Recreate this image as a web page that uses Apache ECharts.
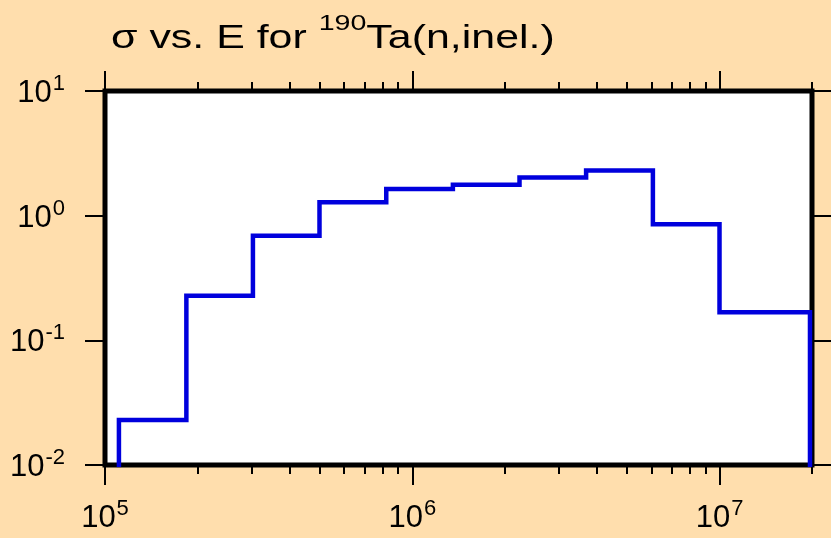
<!DOCTYPE html>
<html>
<head>
<meta charset="utf-8">
<script src="https://cdn.jsdelivr.net/npm/echarts@6/dist/echarts.min.js"></script>
<style>
  html, body { margin: 0; padding: 0; background: #FFDEAD; }
  #chart { width: 831px; height: 538px; }
</style>
</head>
<body>
<div id="chart"></div>
<script>
// group boundaries (eV) and cross sections (b)
const energyEdges = [1.11e5, 1.84e5, 3.03e5, 4.99e5, 8.23e5, 1.356e6, 2.234e6, 3.68e6, 6.07e6, 1.0e7, 1.97e7];
const sigmaValues = [0.023, 0.228, 0.69, 1.28, 1.64, 1.77, 2.02, 2.30, 0.853, 0.168];

const xMajorTicks = [1e5, 1e6, 1e7];
const xMinorTicks = [2e5, 3e5, 4e5, 5e5, 6e5, 7e5, 8e5, 9e5,
                     2e6, 3e6, 4e6, 5e6, 6e6, 7e6, 8e6, 9e6, 2e7];
const xRange = [1e5, 2e7];
const yRange = [1e-2, 1e1];

// build the step outline
let stepPts = [[energyEdges[0], yRange[0]]];
sigmaValues.forEach((v, i) => {
    stepPts.push([energyEdges[i], v]);
    stepPts.push([energyEdges[i + 1], v]);
});
stepPts.push([energyEdges[energyEdges.length - 1], yRange[0]]);

const font = "'Liberation Sans', Arial, sans-serif";
const pow10 = function (v) {
    return '{b|10}{s|' + Math.round(Math.log10(v)) + '}';
};
const labelRich = {
    b: { fontSize: 31, fontFamily: font, color: '#000', lineHeight: 36, verticalAlign: 'bottom' },
    s: { fontSize: 22, fontFamily: font, color: '#000', lineHeight: 36, verticalAlign: 'top', padding: [0, 0, 0, 1] }
};

function xAx(pos, ticks, len, withLabels) {
    return {
        type: 'log', logBase: 10, position: pos,
        min: xRange[0], max: xRange[1],
        axisLine: { show: false },
        splitLine: { show: false },
        axisTick: { show: true, inside: false, length: len, customValues: ticks,
                    lineStyle: { color: '#000', width: 2 } },
        axisLabel: withLabels
            ? { show: true, customValues: ticks, margin: 33, formatter: pow10, rich: labelRich }
            : { show: false }
    };
}
function yAx(pos, withLabels) {
    return {
        type: 'log', logBase: 10, position: pos,
        min: yRange[0], max: yRange[1],
        axisLine: { show: false },
        splitLine: { show: false },
        axisTick: { show: true, inside: false, length: 20, lineStyle: { color: '#000', width: 2 } },
        axisLabel: withLabels
            ? { show: true, margin: 40, formatter: pow10, rich: labelRich }
            : { show: false }
    };
}

let chart = echarts.init(document.getElementById('chart'), null, { renderer: 'canvas' });
chart.setOption({
    backgroundColor: '#FFDEAD',
    animation: false,
    grid: {
        left: 105, right: 19, top: 91, bottom: 73,
        show: true, backgroundColor: '#fff',
        borderColor: '#000', borderWidth: 5,
        outerBoundsMode: 'none'
    },
    graphic: [{
        type: 'text', x: 111, y: 34, scaleX: 1.3,
        style: {
            text: '{m|σ vs. E for }{s|190}{m|Ta(n,inel.)}',
            verticalAlign: 'middle',
            rich: {
                m: { fontSize: 33, fontFamily: font, fill: '#000', lineHeight: 42, verticalAlign: 'bottom' },
                s: { fontSize: 22, fontFamily: font, fill: '#000', lineHeight: 42, verticalAlign: 'top' }
            }
        }
    }],
    xAxis: [
        xAx('bottom', xMajorTicks, 20, true),
        xAx('bottom', xMinorTicks, 9, false),
        xAx('top', xMajorTicks, 20, false),
        xAx('top', xMinorTicks, 9, false)
    ],
    yAxis: [yAx('left', true), yAx('right', false)],
    series: [{
        type: 'line', xAxisIndex: 0, yAxisIndex: 0,
        data: stepPts, showSymbol: false, symbol: 'none',
        lineStyle: { color: '#0000DD', width: 4.5, join: 'miter', cap: 'square' },
        z: 1
    }]
});
</script>
</body>
</html>
